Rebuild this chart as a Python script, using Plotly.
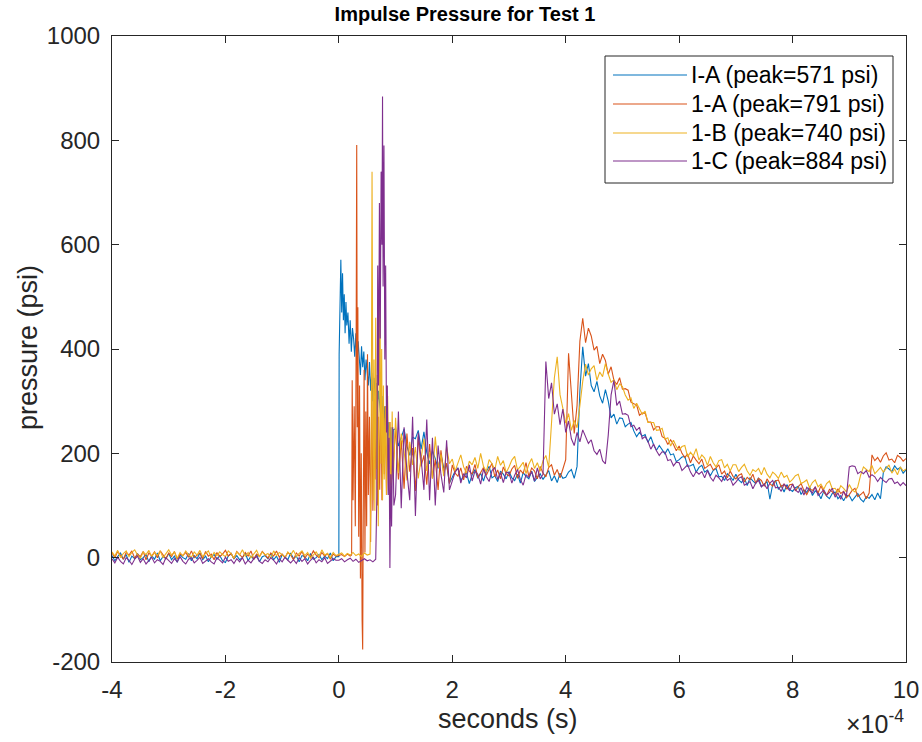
import plotly.graph_objects as go

# ---------------- data (time in units of 1e-4 s, pressure in psi) ----------------
names = ["I-A (peak=571 psi)", "1-A (peak=791 psi)", "1-B (peak=740 psi)", "1-C (peak=884 psi)"]
colors = ["#0072BD", "#D95319", "#EDB120", "#7E2F8E"]

# shared sample times: pre-trigger baseline and post-shock tail
base_t = [-4.0, -3.95, -3.9, -3.85, -3.8, -3.75, -3.7, -3.65, -3.6, -3.55, -3.5, -3.45, -3.4, -3.35, -3.3, -3.25, -3.2, -3.15, -3.1, -3.05,
          -3.0, -2.95, -2.9, -2.85, -2.8, -2.75, -2.7, -2.65, -2.6, -2.55, -2.5, -2.45, -2.4, -2.35, -2.3, -2.25, -2.2, -2.15, -2.1, -2.05,
          -2.0, -1.95, -1.9, -1.85, -1.8, -1.75, -1.7, -1.65, -1.6, -1.55, -1.5, -1.45, -1.4, -1.35, -1.3, -1.25, -1.2, -1.15, -1.1, -1.05,
          -1.0, -0.95, -0.9, -0.85, -0.8, -0.75, -0.7, -0.65, -0.6, -0.55, -0.5, -0.45, -0.4, -0.35, -0.3, -0.25, -0.2, -0.15, -0.1, -0.05]
tail_t = [1.0, 1.05, 1.1, 1.15, 1.2, 1.25, 1.3, 1.35, 1.4, 1.45, 1.5, 1.55, 1.6, 1.65, 1.7, 1.75, 1.8, 1.85, 1.9, 1.95,
          2.0, 2.05, 2.1, 2.15, 2.2, 2.25, 2.3, 2.35, 2.4, 2.45, 2.5, 2.55, 2.6, 2.65, 2.7, 2.75, 2.8, 2.85, 2.9, 2.95,
          3.0, 3.05, 3.1, 3.15, 3.2, 3.25, 3.3, 3.35, 3.4, 3.45, 3.5, 3.55, 3.6, 3.65, 3.7, 3.75, 3.8, 3.85, 3.9, 3.95,
          4.0, 4.05, 4.1, 4.15, 4.2, 4.25, 4.3, 4.35, 4.4, 4.45, 4.5, 4.55, 4.6, 4.65, 4.7, 4.75, 4.8, 4.85, 4.9, 4.95,
          5.0, 5.05, 5.1, 5.15, 5.2, 5.25, 5.3, 5.35, 5.4, 5.45, 5.5, 5.55, 5.6, 5.65, 5.7, 5.75, 5.8, 5.85, 5.9, 5.95,
          6.0, 6.05, 6.1, 6.15, 6.2, 6.25, 6.3, 6.35, 6.4, 6.45, 6.5, 6.55, 6.6, 6.65, 6.7, 6.75, 6.8, 6.85, 6.9, 6.95,
          7.0, 7.05, 7.1, 7.15, 7.2, 7.25, 7.3, 7.35, 7.4, 7.45, 7.5, 7.55, 7.6, 7.65, 7.7, 7.75, 7.8, 7.85, 7.9, 7.95,
          8.0, 8.05, 8.1, 8.15, 8.2, 8.25, 8.3, 8.35, 8.4, 8.45, 8.5, 8.55, 8.6, 8.65, 8.7, 8.75, 8.8, 8.85, 8.9, 8.95,
          9.0, 9.05, 9.1, 9.15, 9.2, 9.25, 9.3, 9.35, 9.4, 9.45, 9.5, 9.55, 9.6, 9.65, 9.7, 9.75, 9.8, 9.85, 9.9, 9.95,
          10.0]

# ---- I-A (blue)
ia_base = [4, -6, 2, 9, -3, 6, -9, 3, -2, 8, -4, 0, 6, -8, 4, -3, 9, -6, 2, -2,
           8, -4, 3, -9, 6, 0, -3, 8, -6, 4, -2, 9, -4, 3, -8, 2, 6, -3, 4, -6,
           -9, 3, 8, -2, 4, -4, 0, 9, -6, 3, -3, 6, -8, 2, 4, -2, 8, -4, 3, -9,
           6, 0, -4, 9, -2, 3, -8, 4, 2, -6, 8, -3, 0, 6, -4, 3, -2, 9, -6, 2]
ia_mid_t = [0.0, 0.005, 0.02, 0.035, 0.05, 0.065, 0.08, 0.095, 0.11, 0.125, 0.14, 0.16, 0.18, 0.2, 0.22, 0.24, 0.26, 0.28,
            0.3, 0.32, 0.34, 0.36, 0.38, 0.4, 0.42, 0.44, 0.46, 0.48, 0.5, 0.52, 0.54, 0.56, 0.58, 0.6, 0.62, 0.64, 0.66,
            0.68, 0.7, 0.72, 0.74, 0.76, 0.78, 0.8, 0.82, 0.84, 0.86, 0.88, 0.9, 0.92, 0.94, 0.96]
ia_mid = [2, 390, 520, 571, 470, 545, 455, 505, 430, 490, 445, 470, 410, 455, 395, 440, 420, 385,
          430, 370, 415, 390, 350, 405, 365, 395, 340, 380, 355, 330, 375, 320, 355, 300, 345, 310, 335,
          285, 320, 300, 270, 310, 255, 290, 235, 275, 215, 260, 200, 250, 190, 245]
ia_tail = [247, 214, 232, 247, 214, 196, 231, 228, 244, 208, 241, 202, 180, 205, 190, 171, 198, 171, 178, 143,
           154, 166, 172, 148, 156, 163, 142, 159, 169, 152, 162, 147, 165, 175, 153, 157, 146, 166, 160, 151,
           165, 153, 148, 160, 143, 163, 156, 151, 166, 146, 154, 161, 150, 158, 167, 147, 157, 144, 162, 152,
           154, 164, 169, 152, 175, 320, 404, 348, 372, 330, 318, 338, 310, 296, 322, 300, 268, 275, 256, 268,
           267, 251, 256, 259, 243, 232, 240, 233, 236, 221, 232, 216, 206, 215, 208, 199, 209, 197, 199, 184,
           188, 193, 194, 175, 176, 179, 164, 173, 177, 164, 168, 157, 167, 171, 155, 156, 148, 161, 156, 148,
           160, 149, 144, 153, 138, 153, 147, 142, 153, 136, 141, 146, 112, 141, 148, 131, 138, 126, 140, 131,
           127, 134, 137, 121, 130, 125, 136, 119, 128, 124, 113, 127, 118, 113, 123, 126, 113, 119, 109, 119,
           119, 109, 116, 123, 112, 107, 117, 114, 121, 111, 124, 113, 163, 174, 170, 165, 176, 169, 173, 162,
           168]

# ---- 1-A (orange)
a1_base = [9, 0, 12, 4, -3, 10, 5, 13, -1, 7, 2, 12, -4, 9, 3, 11, 0, 13, 5, -2,
           9, 2, 12, -3, 7, 4, 10, 1, 13, 0, 5, 9, -2, 12, 3, 7, -4, 10, 2, 7,
           14, 3, 8, -2, 12, 5, 0, 10, 3, 13, -3, 7, 2, 12, 5, -1, 9, 3, 13, 1,
           7, 0, 10, 5, -4, 9, 3, 12, -1, 7, 2, 13, 5, 0, 10, 3, 8, -3, 7, 3]
a1_mid_t = [0.0, 0.05, 0.1, 0.15, 0.2, 0.225, 0.235, 0.25, 0.27, 0.29, 0.305, 0.315, 0.325, 0.335, 0.35, 0.365, 0.38,
            0.395, 0.41, 0.42, 0.43, 0.445, 0.46, 0.475, 0.49, 0.505, 0.52, 0.54, 0.56, 0.58, 0.6, 0.62, 0.64, 0.66,
            0.68, 0.7, 0.72, 0.74, 0.76, 0.78, 0.8, 0.82, 0.84, 0.86, 0.88, 0.9, 0.92, 0.94, 0.96]
a1_mid = [4, 6, 2, 7, 3, 5, 340, 110, 290, 60, 420, 791, 250, 480, 40, 330, -40,
          200, -120, -176, 80, 360, 10, 280, 60, 390, 120, 270, 30, 330, 90, 240, 150, 310,
          100, 270, 130, 340, 110, 250, 160, 290, 120, 230, 170, 260, 140, 220, 180]
a1_tail = [250, 150, 225, 132, 238, 165, 210, 128, 232, 175, 196, 140, 218, 152, 188, 130, 206, 162, 181, 142,
           178, 162, 156, 172, 149, 175, 166, 160, 179, 153, 164, 173, 158, 169, 181, 155, 168, 151, 174, 161,
           157, 170, 177, 152, 168, 161, 182, 156, 172, 166, 151, 175, 162, 155, 173, 178, 158, 169, 153, 170,
           188, 392, 305, 238, 292, 415, 459, 412, 440, 425, 398, 405, 372, 390, 378, 352, 366, 340, 332, 345,
           323, 324, 321, 298, 295, 293, 273, 277, 277, 260, 260, 245, 251, 251, 232, 229, 217, 226, 217, 205,
           214, 200, 192, 199, 182, 195, 187, 180, 189, 171, 175, 179, 168, 172, 178, 160, 166, 153, 166, 156,
           151, 158, 161, 145, 154, 149, 160, 143, 152, 148, 137, 151, 142, 137, 147, 149, 136, 141, 131, 140,
           141, 128, 136, 142, 129, 121, 132, 129, 135, 124, 138, 126, 119, 131, 126, 120, 132, 123, 127, 115,
           121, 129, 133, 117, 121, 126, 113, 124, 197, 186, 192, 183, 195, 201, 187, 189, 182, 196, 192, 185,
           190]

# ---- 1-B (yellow)
b1_base = [11, 3, 14, 0, 8, 13, 2, 10, 15, 5, -1, 11, 6, 14, 2, 10, 4, 13, 0, 8,
           15, 5, 11, -1, 10, 3, 13, 6, 1, 11, 5, 14, 2, 8, 13, 0, 10, 4, 11, 6,
           2, 13, 8, -1, 11, 5, 15, 3, 10, 0, 6, 14, 2, 11, 5, 8, -1, 13, 4, 10,
           6, 0, 11, 5, 14, 2, 8, 13, 4, 10, -1, 6, 11, 2, 15, 5, 8, 0, 10, 4]
b1_mid_t = [0.0, 0.05, 0.1, 0.15, 0.2, 0.25, 0.3, 0.35, 0.4, 0.45, 0.5, 0.55, 0.57, 0.585, 0.595, 0.605, 0.62, 0.635,
            0.65, 0.665, 0.68, 0.695, 0.71, 0.725, 0.74, 0.755, 0.77, 0.785, 0.8, 0.82, 0.84, 0.86, 0.88, 0.9, 0.92,
            0.94, 0.96]
b1_mid = [6, 9, 3, 8, 5, 10, 4, 7, 2, 9, 5, 7, 180, 740, 420, 110, 380, 90,
          460, 170, 350, 60, 300, 520, 180, 400, 110, 330, 150, 290, 120, 310, 140, 260, 120,
          280, 150]
b1_tail = [268, 162, 238, 205, 148, 222, 178, 212, 152, 190, 228, 166, 203, 152, 232, 172, 198, 156, 213, 180,
           189, 166, 183, 197, 174, 162, 185, 178, 192, 171, 200, 175, 165, 188, 180, 169, 194, 177, 186, 163,
           174, 187, 194, 168, 175, 183, 161, 179, 190, 171, 182, 166, 186, 196, 173, 255, 345, 385, 312, 286,
           258, 276, 244, 263, 249, 292, 338, 371, 350, 362, 368, 340, 356, 347, 372, 352, 336, 341, 322, 333,
           328, 312, 302, 306, 286, 296, 285, 275, 281, 259, 259, 259, 244, 245, 248, 227, 230, 214, 225, 213,
           206, 213, 215, 193, 202, 195, 209, 187, 197, 191, 177, 194, 182, 174, 186, 188, 172, 179, 166, 178,
           178, 165, 173, 179, 166, 158, 169, 165, 171, 159, 173, 160, 153, 164, 159, 152, 164, 154, 158, 145,
           150, 157, 160, 142, 145, 149, 134, 144, 149, 136, 141, 131, 142, 147, 132, 133, 125, 138, 133, 126,
           140, 130, 126, 136, 158, 174, 169, 165, 177, 161, 167, 173, 164, 170, 178, 162, 170, 159, 174, 166,
           170]

# ---- 1-C (purple)
c1_base = [-2, -10, 1, -7, -12, 0, -5, -13, -3, 3, -9, -2, -12, -5, 1, -10, -4, -7, -13, 0,
           -5, -11, -2, -8, 2, -7, -12, -3, 0, -10, -5, 1, -11, -6, -2, -8, -12, 0, -5, -10,
           1, -7, -4, -11, -2, -8, 0, -12, -5, -10, -2, 2, -7, -11, -4, -8, 0, -5, -12, -2,
           -8, 1, -5, -10, -4, -11, 0, -7, -2, -12, -5, 1, -10, -4, -8, 0, -11, -6, -2, -5]
c1_mid_t = [0.0, 0.05, 0.1, 0.15, 0.2, 0.25, 0.3, 0.35, 0.4, 0.45, 0.5, 0.55, 0.6, 0.65, 0.67, 0.685, 0.7, 0.715,
            0.73, 0.745, 0.76, 0.77, 0.78, 0.795, 0.81, 0.825, 0.84, 0.855, 0.87, 0.885, 0.9, 0.915, 0.93, 0.95, 0.97]
c1_mid = [-5, -2, -8, -4, -1, -7, -3, -9, -5, -2, -6, -4, -8, -3, 120, 560, 330, 680,
          420, 740, 600, 884, 520, 790, 380, 560, 240, 330, 120, 230, -20, 160, 60, 250, 100]
c1_tail = [120, 280, 95, 250, 165, 110, 270, 80, 240, 190, 130, 265, 110, 230, 100, 215, 160, 125, 225, 130,
           149, 164, 172, 143, 161, 153, 178, 147, 166, 160, 141, 170, 155, 146, 167, 173, 150, 163, 144, 164,
           163, 143, 158, 169, 150, 139, 159, 154, 165, 147, 172, 151, 160, 376, 305, 335, 275, 295, 255, 285,
           240, 262, 228, 215, 240, 222, 245, 230, 219, 226, 205, 198, 208, 186, 180, 235, 312, 340, 292, 300,
           275, 276, 273, 251, 254, 244, 250, 228, 232, 223, 208, 218, 205, 196, 203, 202, 186, 188, 176, 183,
           182, 167, 173, 178, 164, 155, 165, 160, 165, 153, 167, 154, 147, 158, 153, 146, 158, 148, 152, 139,
           145, 152, 155, 139, 142, 146, 132, 143, 148, 136, 141, 132, 143, 148, 134, 135, 127, 141, 136, 128,
           141, 130, 125, 134, 120, 135, 129, 124, 136, 119, 124, 130, 120, 125, 133, 116, 124, 112, 127, 118,
           174, 176, 175, 161, 165, 161, 167, 154, 159, 155, 146, 154, 148, 144, 151, 152, 142, 145, 138, 144,
           138]

series_t = [base_t + ia_mid_t + tail_t, base_t + a1_mid_t + tail_t,
            base_t + b1_mid_t + tail_t, base_t + c1_mid_t + tail_t]
series_p = [ia_base + ia_mid + ia_tail, a1_base + a1_mid + a1_tail,
            b1_base + b1_mid + b1_tail, c1_base + c1_mid + c1_tail]
for t, p in zip(series_t, series_p):
    assert len(t) == len(p), (len(t), len(p))

x_ticks = [-4, -2, 0, 2, 4, 6, 8, 10]
y_ticks = [-200, 0, 200, 400, 600, 800, 1000]

# ---------------- figure ----------------
# the page's default body margin is removed (post_script), so figure pixels == window pixels
W, H = 922, 742
L, R, T, B = 112, 16, 36, 80
PW, PH = W - L - R, H - T - B
axis_col = "#262626"
font_fam = "Liberation Sans, Arial, Helvetica, sans-serif"

def px(xs):  # window x -> paper fraction
    return (xs - L) / PW

def py(ys):  # window y -> paper fraction
    return (H - B - ys) / PH

fig = go.Figure()
for t, p, c, n in zip(series_t, series_p, colors, names):
    fig.add_trace(go.Scatter(x=t, y=p, mode="lines", name=n, showlegend=False,
                             line=dict(color=c, width=1.1)))

fig.update_layout(
    width=W, height=H,
    margin=dict(l=L, r=R, t=T, b=B, autoexpand=False),
    paper_bgcolor="white", plot_bgcolor="white",
    font=dict(family=font_fam, color=axis_col, size=24),
    title=dict(text="<b>Impulse Pressure for Test 1</b>", xref="paper", x=px(465), xanchor="center",
               yref="container", y=1 - 14 / H, yanchor="middle", font=dict(size=20, color="black")),
)
fig.update_xaxes(range=[-4, 10], tickvals=x_ticks, ticktext=[str(v) for v in x_ticks],
                 ticks="inside", ticklen=7, tickcolor=axis_col, showline=True, linecolor=axis_col,
                 linewidth=1, mirror="ticks", showgrid=False, zeroline=False, automargin=False,
                 tickfont=dict(size=24), ticklabelstandoff=6)
fig.update_yaxes(range=[-200, 1000], tickvals=y_ticks, ticktext=[str(v) for v in y_ticks],
                 ticks="inside", ticklen=7, tickcolor=axis_col, showline=True, linecolor=axis_col,
                 linewidth=1, mirror="ticks", showgrid=False, zeroline=False, automargin=False,
                 tickfont=dict(size=24), ticklabelstandoff=6)

# axis titles
fig.add_annotation(text="seconds (s)", xref="paper", yref="paper", x=px(508), y=py(719),
                   xanchor="center", yanchor="middle", showarrow=False, font=dict(size=27, color=axis_col))
fig.add_annotation(text="pressure (psi)", xref="paper", yref="paper", x=px(28), y=py(348),
                   xanchor="center", yanchor="middle", textangle=-90, showarrow=False,
                   font=dict(size=27, color=axis_col))
# exponent label
fig.add_annotation(text="\u00d710<sup>-4</sup>", xref="paper", yref="paper", x=px(906), y=py(722),
                   xanchor="right", yanchor="middle", showarrow=False, font=dict(size=25, color=axis_col))

# legend (box, line samples, labels)
fig.add_shape(type="rect", xref="paper", yref="paper", x0=px(605), x1=px(893), y0=py(183), y1=py(56),
              line=dict(color=axis_col, width=1), fillcolor="white", layer="above")
entry_y = [75, 104, 133, 161]
for yy, c, n in zip(entry_y, colors, names):
    fig.add_shape(type="line", xref="paper", yref="paper", x0=px(613), x1=px(687), y0=py(yy), y1=py(yy),
                  line=dict(color=c, width=1.1), layer="above")
    fig.add_annotation(text=n, xref="paper", yref="paper", x=px(689), y=py(yy), xanchor="left",
                       yanchor="middle", showarrow=False, font=dict(size=23, color="black"))

fig.write_html("out.html", config={"displayModeBar": False},
               post_script="document.body.style.margin='0';")
